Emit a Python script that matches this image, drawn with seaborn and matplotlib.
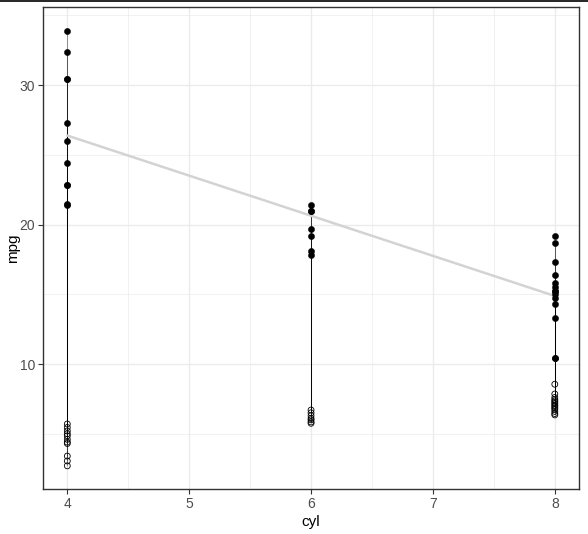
import numpy as np
import pandas as pd
import matplotlib
matplotlib.use("Agg")
import matplotlib.pyplot as plt
from matplotlib.lines import Line2D
from matplotlib.ticker import MultipleLocator
import seaborn as sns

# mtcars mpg by cylinder count (filled points)
mpg_4 = [33.9, 32.4, 30.4, 30.4, 27.3, 26.0, 24.4, 22.8, 22.8, 21.5, 21.4]
mpg_6 = [21.4, 21.0, 21.0, 19.7, 19.2, 18.1, 17.8]
mpg_8 = [19.2, 18.7, 17.3, 16.4, 15.8, 15.5, 15.2, 15.2, 15.0, 14.7, 14.3,
         13.3, 10.4, 10.4]

# second value per car (open points)
low_4 = [5.7, 5.45, 5.2, 5.0, 4.85, 4.6, 4.4, 4.3, 3.4, 3.05, 2.7]
low_6 = [6.7, 6.5, 6.3, 6.1, 6.0, 5.85, 5.75]
low_8 = [8.55, 7.85, 7.6, 7.45, 7.35, 7.25, 7.15, 7.05, 6.95, 6.85, 6.75,
         6.6, 6.45, 6.35]

df = pd.DataFrame({
    "cyl": [4] * len(mpg_4) + [6] * len(mpg_6) + [8] * len(mpg_8),
    "mpg": mpg_4 + mpg_6 + mpg_8,
    "low": low_4 + low_6 + low_8,
})

sns.set_style("white")
plt.rcParams["font.family"] = ["Liberation Sans", "DejaVu Sans"]

fig = plt.figure(figsize=(5.88, 5.34), dpi=100)
ax = fig.add_axes([0.073, 0.0843, 0.912, 0.9027])

# grid like theme_bw
ax.set_axisbelow(True)
ax.xaxis.set_major_locator(MultipleLocator(1))
ax.xaxis.set_minor_locator(MultipleLocator(0.5))
ax.yaxis.set_major_locator(MultipleLocator(10))
ax.yaxis.set_minor_locator(MultipleLocator(5))
ax.grid(which="major", color="#EBEBEB", linewidth=1.0)
ax.grid(which="minor", color="#EBEBEB", linewidth=0.5)

# segments joining each pair
ax.vlines(df["cyl"], df["low"], df["mpg"], color="black", linewidth=0.45,
          alpha=0.6, zorder=2)

# linear fit of mpg on cyl
sns.regplot(data=df, x="cyl", y="mpg", scatter=False, ci=None, ax=ax,
            color="#D3D3D3", line_kws={"linewidth": 1.8, "zorder": 3})

sns.scatterplot(data=df, x="cyl", y="mpg", ax=ax, color="black", s=20,
                edgecolor="black", linewidth=0.3, zorder=4)
sns.scatterplot(data=df, x="cyl", y="low", ax=ax, facecolor="none",
                edgecolor="black", s=18, linewidth=0.6, zorder=4)

ax.set_xlim(3.8, 8.2)
ax.set_ylim(1.04, 35.6)
ax.set_xticks([4, 5, 6, 7, 8])
ax.set_yticks([10, 20, 30])

for side in ax.spines.values():
    side.set_color("#333333")
    side.set_linewidth(1.0)

ax.tick_params(which="major", length=3.5, width=0.8, color="#333333",
               labelsize=10, labelcolor="#4D4D4D", bottom=True, left=True,
               pad=2)
ax.tick_params(which="minor", length=0)
ax.set_xlabel("cyl", fontsize=11, color="black", labelpad=3)
ax.set_ylabel("mpg", fontsize=11, color="black")
ax.yaxis.set_label_coords(-0.043, 0.5)

# thin line along the top edge of the image
fig.add_artist(Line2D([0, 1], [0.999, 0.999], transform=fig.transFigure,
                      color="black", linewidth=1.2))

fig.savefig("out.png", dpi=100)
